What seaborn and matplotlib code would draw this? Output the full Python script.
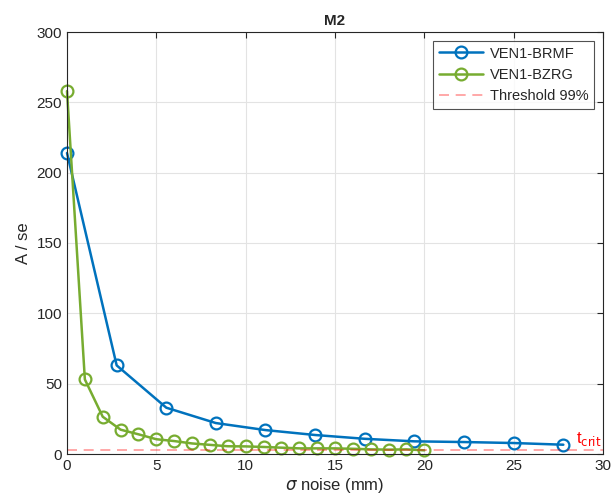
import numpy as np
import pandas as pd
import matplotlib
matplotlib.use("Agg")
import matplotlib.pyplot as plt
import seaborn as sns

# Data
brmf_x = [0, 2.78, 5.56, 8.33, 11.11, 13.89, 16.67, 19.44, 22.22, 25.0, 27.78]
brmf_y = [214, 63, 32.9, 22, 17, 13.5, 10.8, 9.0, 8.5, 7.8, 6.6]
bzrg_x = list(range(0, 21))
bzrg_y = [258, 53, 26.5, 17.3, 14, 10.5, 9.2, 7.5, 6.5, 5.5, 5.4, 5.0, 4.5,
          4.0, 4.0, 4.0, 3.7, 3.3, 3.1, 3.3, 2.6]
threshold = 2.6
series_names = ["VEN1-BRMF", "VEN1-BZRG", "Threshold 99%"]

sns.set_style("white")
plt.rcParams['font.family'] = ['Liberation Sans', 'DejaVu Sans']

fig = plt.figure(figsize=(6.14, 5.04), dpi=100)
ax = fig.add_axes([67/614, 1-454/504, (603-67)/614, (454-32)/504])

blue = "#0072BD"
green = "#77AC30"

sns.lineplot(x=brmf_x, y=brmf_y, ax=ax, color=blue, lw=1.8, marker='o',
             markersize=8.5, markerfacecolor='none', markeredgecolor=blue,
             markeredgewidth=1.6, label=series_names[0], clip_on=False)
sns.lineplot(x=bzrg_x, y=bzrg_y, ax=ax, color=green, lw=1.8, marker='o',
             markersize=8.5, markerfacecolor='none', markeredgecolor=green,
             markeredgewidth=1.6, label=series_names[1], clip_on=False)
ax.axhline(threshold, color="#FF0000", alpha=0.4, lw=1.2, ls=(0, (6, 4)),
           label=series_names[2])
ax.text(28.5, 7.5, r"t$_{\mathrm{crit}}$", color="red", fontsize=12)

ax.set_xlim(0, 30)
ax.set_ylim(0, 300)
ax.set_xticks(range(0, 31, 5))
ax.set_yticks(range(0, 301, 50))
ax.grid(True, color="#E3E3E3", lw=0.8)
ax.tick_params(direction='in', length=4, labelsize=11, colors="#262626",
               top=True, right=True)
for s in ax.spines.values():
    s.set_color("#262626")
    s.set_linewidth(0.8)
ax.set_title("M2", fontsize=11, fontweight='bold', pad=5)
ax.set_xlabel(r"$\sigma$ noise (mm)", fontsize=12, color="#262626", labelpad=2)
ax.set_ylabel("A / se", fontsize=12, color="#262626")
leg = ax.legend(loc='upper right', fontsize=10.5, frameon=True, fancybox=False,
                edgecolor="#262626", handlelength=3.0, borderaxespad=0.6,
                handletextpad=0.5)
leg.get_frame().set_linewidth(0.8)

fig.savefig("out.png", dpi=100)
